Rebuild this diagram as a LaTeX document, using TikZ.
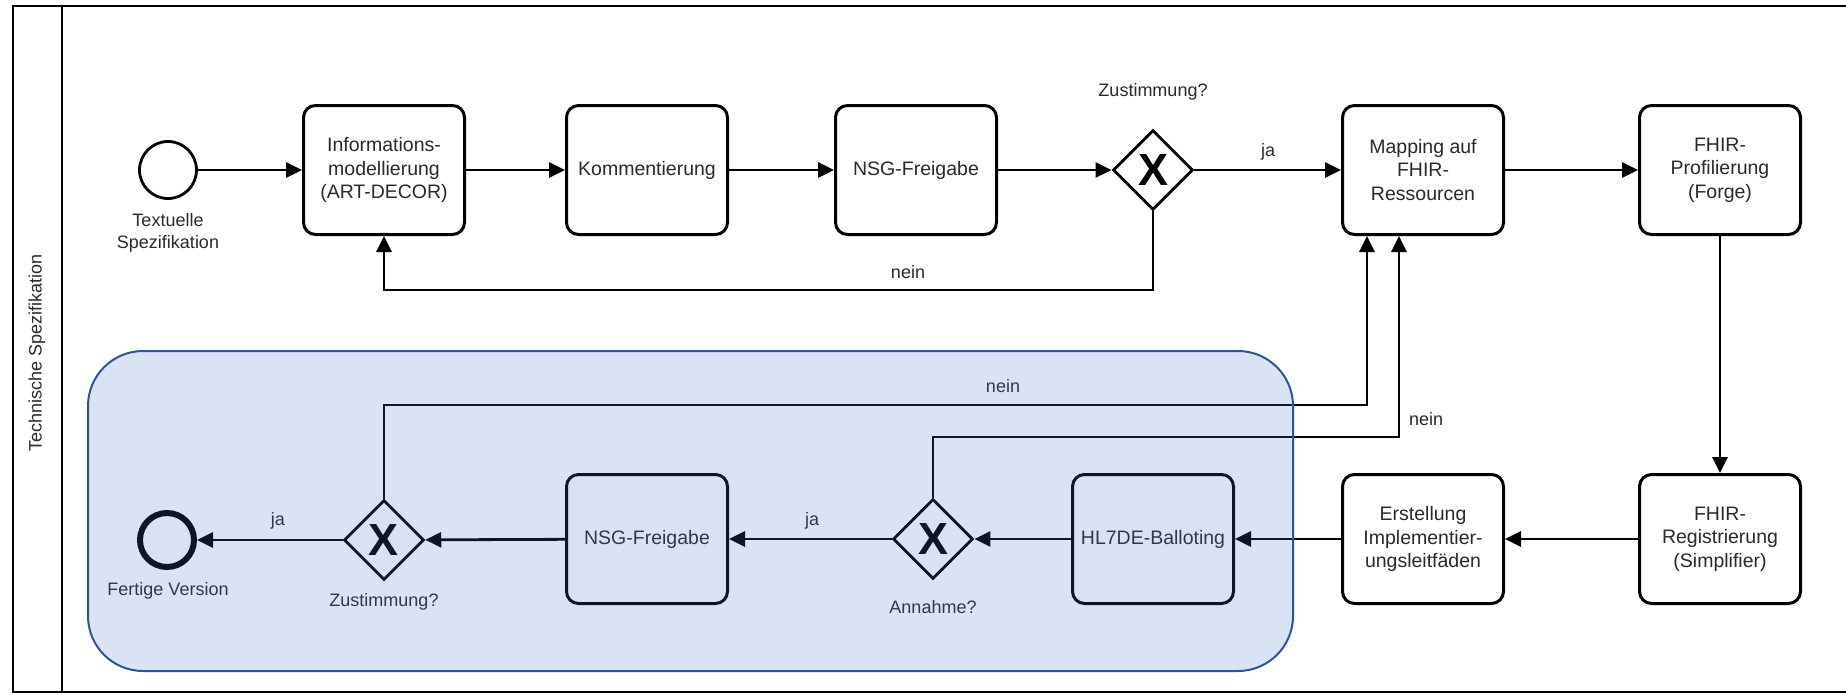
\documentclass[tikz,border=0pt]{standalone}
\usepackage{fontspec}
\setmainfont{Liberation Sans}
\usetikzlibrary{shapes.geometric,arrows.meta}
\definecolor{poolblue}{HTML}{4472C4}
\definecolor{poolline}{HTML}{2F5597}
\definecolor{txtgray}{HTML}{2A2A2A}
\begin{document}
\begin{tikzpicture}[x=1pt,y=-1pt,line width=2.8pt]
  \useasboundingbox (0,0) rectangle (1846,694);
  \draw (1846,6) -- (13,6) -- (13,692) -- (1846,692);
  \draw (62,6) -- (62,692);
  \node[rotate=90,text=txtgray,font=\fontsize{18}{21}\selectfont] (lane) at (37,353) {Technische Spezifikation};

  \begin{scope}[every node/.style={draw,line width=3pt,rounded corners=12pt,fill=white,minimum width=161pt,minimum height=129pt,align=center,text=txtgray,font=\fontsize{19.5}{23.5}\selectfont}]
  \node (info) at (384,170) {Informations-\\modellierung\\(ART-DECOR)};
  \node (komm) at (647,170) {Kommentierung};
  \node (nsga) at (916,170) {NSG-Freigabe};
  \node (mapp) at (1423,170) {Mapping auf\\FHIR-\\Ressourcen};
  \node (prof) at (1720,170) {FHIR-\\Profilierung\\(Forge)};
  \node (regi) at (1720,539) {FHIR-\\Registrierung\\(Simplifier)};
  \node (erst) at (1423,539) {Erstellung\\Implementier-\\ungsleitfäden};
  \node (ball) at (1153,539) {HL7DE-Balloting};
  \node (nsgb) at (647,539) {NSG-Freigabe};
  \end{scope}

  \begin{scope}[every node/.style={draw,diamond,aspect=1,inner sep=0pt,minimum size=80pt,fill=white,font=\fontsize{45}{45}\selectfont\bfseries}]
  \node (gzu1) at (1153,170) {X};
  \node (gann) at (933,539) {X};
  \node (gzu2) at (384,540) {X};
  \end{scope}

  \node[draw,circle,fill=white,minimum size=57pt] (start) at (168,170) {};
  \node[draw,circle,fill=white,line width=6pt,minimum size=54pt] (ende) at (167,540) {};

  \begin{scope}[every node/.style={text=txtgray,align=center,font=\fontsize{18}{21.5}\selectfont}]
  \node (tstart) at (168,233) {Textuelle\\Spezifikation};
  \node (tende) at (168,591) {Fertige Version};
  \node (tzu1) at (1153,92) {Zustimmung?};
  \node (tzu2) at (384,602) {Zustimmung?};
  \node (tann) at (933,607) {Annahme?};
  \node (ja1) at (1268,152) {ja};
  \node (ja2) at (812,521) {ja};
  \node (ja3) at (278,521) {ja};
  \node (nein1) at (908,272) {nein};
  \node (nein2) at (1003,386) {nein};
  \node (nein3) at (1426,419) {nein};
  \end{scope}

  \begin{scope}[every edge/.style={draw,-{Triangle[length=16pt,width=15pt]}}]
  \path (start) edge (info);
  \path (info) edge (komm);
  \path (komm) edge (nsga);
  \path (nsga) edge (gzu1);
  \path (gzu1) edge (mapp);
  \path (mapp) edge (prof);
  \path (prof) edge (regi);
  \path (regi) edge (erst);
  \path (erst) edge (ball);
  \path (ball) edge (gann);
  \path (gann) edge (nsgb);
  \path (nsgb) edge (gzu2);
  \path (gzu2) edge (ende);
  \end{scope}

  \coordinate (k1) at (384,290);
  \coordinate (k2) at (1367,405);
  \coordinate (k3) at (1399,437);
  \draw[-{Triangle[length=16pt,width=15pt]}] (gzu1.south) |- (k1) -- (info.south);
  \draw[-{Triangle[length=16pt,width=15pt]}] (gzu2.north) |- (k2) -- (mapp.south -| k2);
  \draw[-{Triangle[length=16pt,width=15pt]}] (gann.north) |- (k3) -- (mapp.south -| k3);

  \draw[poolline,line width=2pt,fill=poolblue,fill opacity=0.2,rounded corners=55pt] (88,351) rectangle (1293,671);
\end{tikzpicture}
\end{document}
